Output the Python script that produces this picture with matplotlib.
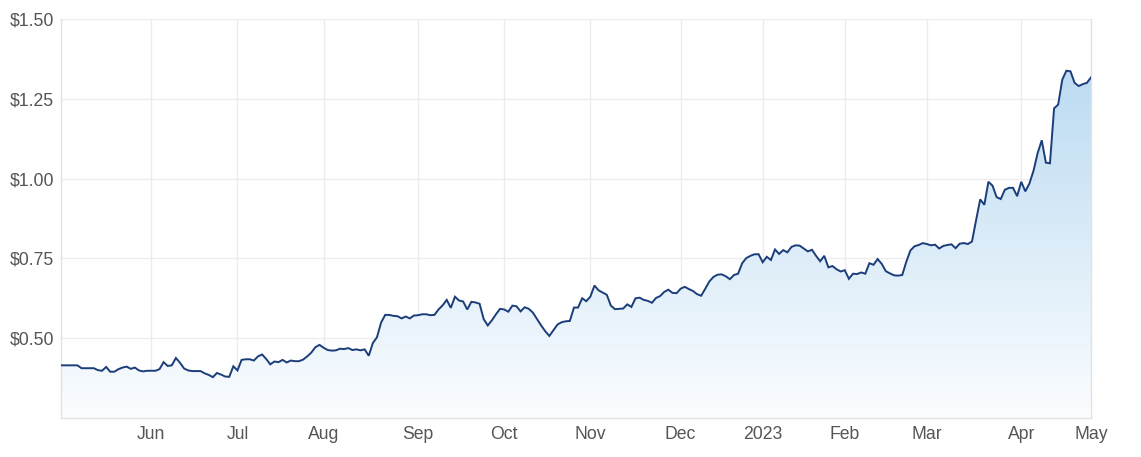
import numpy as np
import pandas as pd
import matplotlib
matplotlib.use("Agg")
import matplotlib.pyplot as plt
from matplotlib.colors import LinearSegmentedColormap

# --- data: daily closes, one value per ASX trading day ---------------------
may22 = [0.415, 0.415, 0.415, 0.415, 0.415, 0.406, 0.406, 0.406, 0.406, 0.400,
         0.398, 0.410, 0.395, 0.395, 0.403, 0.408, 0.411, 0.404, 0.408, 0.399,
         0.396, 0.398]
jun22 = [0.398, 0.398, 0.403, 0.425, 0.413, 0.415, 0.438, 0.423, 0.405, 0.399,
         0.397, 0.397, 0.397, 0.390, 0.385, 0.378, 0.391, 0.386, 0.380, 0.379,
         0.412]
jul22 = [0.399, 0.432, 0.434, 0.434, 0.430, 0.443, 0.449, 0.435, 0.418, 0.427,
         0.425, 0.432, 0.424, 0.430, 0.428, 0.428, 0.433, 0.443, 0.455, 0.472,
         0.479]
aug22 = [0.470, 0.463, 0.461, 0.462, 0.467, 0.466, 0.469, 0.463, 0.465, 0.462,
         0.465, 0.445, 0.485, 0.503, 0.549, 0.573, 0.573, 0.570, 0.569, 0.562,
         0.568, 0.562, 0.571]
sep22 = [0.572, 0.575, 0.575, 0.572, 0.573, 0.590, 0.603, 0.620, 0.595, 0.630,
         0.618, 0.615, 0.590, 0.614, 0.612, 0.608, 0.560, 0.540, 0.556, 0.575,
         0.592]
oct22 = [0.590, 0.583, 0.602, 0.600, 0.584, 0.597, 0.592, 0.580, 0.560, 0.540,
         0.522, 0.507, 0.525, 0.543, 0.550, 0.553, 0.554, 0.596, 0.596, 0.625,
         0.616]
nov22 = [0.630, 0.665, 0.650, 0.643, 0.636, 0.602, 0.591, 0.592, 0.593, 0.606,
         0.598, 0.625, 0.627, 0.620, 0.617, 0.611, 0.626, 0.632, 0.645, 0.652,
         0.642, 0.641]
dec22 = [0.655, 0.661, 0.654, 0.648, 0.638, 0.633, 0.655, 0.678, 0.692, 0.699,
         0.700, 0.694, 0.685, 0.698, 0.702, 0.735, 0.751, 0.758, 0.763, 0.763]
jan23 = [0.738, 0.755, 0.745, 0.778, 0.764, 0.776, 0.769, 0.786, 0.791, 0.790,
         0.781, 0.772, 0.777, 0.758, 0.741, 0.758, 0.722, 0.726, 0.716, 0.709]
feb23 = [0.713, 0.686, 0.702, 0.701, 0.706, 0.702, 0.735, 0.730, 0.748, 0.733,
         0.710, 0.703, 0.697, 0.696, 0.698, 0.740, 0.775, 0.788, 0.792, 0.798]
mar23 = [0.795, 0.791, 0.793, 0.781, 0.789, 0.792, 0.794, 0.782, 0.796, 0.798,
         0.795, 0.803, 0.870, 0.935, 0.918, 0.990, 0.978, 0.942, 0.936, 0.965,
         0.971, 0.971, 0.945]
apr23 = [0.990, 0.960, 0.985, 1.025, 1.080, 1.120, 1.050, 1.048, 1.220, 1.232,
         1.310, 1.338, 1.336, 1.300, 1.290, 1.296, 1.300]
may23 = [1.317]

# ASX holidays inside the window (market closed)
holidays = ["2022-06-13", "2022-09-22", "2022-12-26", "2022-12-27",
            "2023-01-02", "2023-01-26", "2023-04-07", "2023-04-10",
            "2023-04-25"]
month_labels = ["Jun", "Jul", "Aug", "Sep", "Oct", "Nov", "Dec", "2023",
                "Feb", "Mar", "Apr", "May"]
y_ticks = [0.50, 0.75, 1.00, 1.25, 1.50]

prices = np.array(may22 + jun22 + jul22 + aug22 + sep22 + oct22 + nov22
                  + dec22 + jan23 + feb23 + mar23 + apr23 + may23)
dates = pd.bdate_range("2022-05-02", "2023-05-01", freq="C",
                       holidays=holidays)
x = np.arange(len(dates))

# first trading day of each month -> tick positions
month_key = dates.year * 12 + dates.month
tick_pos = [i for i in range(1, len(dates)) if month_key[i] != month_key[i - 1]]

# --- style -----------------------------------------------------------------
LINE = "#1b3d7a"
GRID = "#ececec"
TXT = "#555555"

plt.rcParams["font.family"] = ["Liberation Sans", "DejaVu Sans"]

fig = plt.figure(figsize=(11.41, 4.57), dpi=100)
ax = fig.add_axes([61 / 1141, 39 / 457, 1030 / 1141, 399 / 457])

ax.set_xlim(0, len(x) - 1)
ax.set_ylim(0.25, 1.5)

# gradient fill under the line, clipped to the area polygon
cmap = LinearSegmentedColormap.from_list("fill", ["#fbfdff", "#bcdbf2"])
area = ax.fill_between(x, prices, 0.25, color="none", lw=0)
grad = np.linspace(0, 1, 256).reshape(-1, 1)
img = ax.imshow(grad, cmap=cmap, aspect="auto", origin="lower",
                extent=[0, len(x) - 1, 0.25, prices.max()], zorder=1)
img.set_clip_path(area.get_paths()[0], transform=ax.transData)

ax.plot(x, prices, color=LINE, lw=1.4, zorder=3, solid_joinstyle="miter")

ax.set_xticks(tick_pos)
ax.set_xticklabels(month_labels)
ax.set_yticks(y_ticks)
ax.set_yticklabels([f"${v:.2f}" for v in y_ticks])

ax.grid(True, color=GRID, lw=0.9, zorder=0)
ax.set_axisbelow(True)
ax.tick_params(length=0, labelsize=12.7, colors=TXT)
ax.tick_params(axis="x", pad=6)
ax.tick_params(axis="y", pad=5)

ax.spines["top"].set_visible(False)
for side in ["left", "bottom", "right"]:
    ax.spines[side].set_color("#e2e2e2")
    ax.spines[side].set_linewidth(1.0)

fig.savefig("out.png", dpi=100)
